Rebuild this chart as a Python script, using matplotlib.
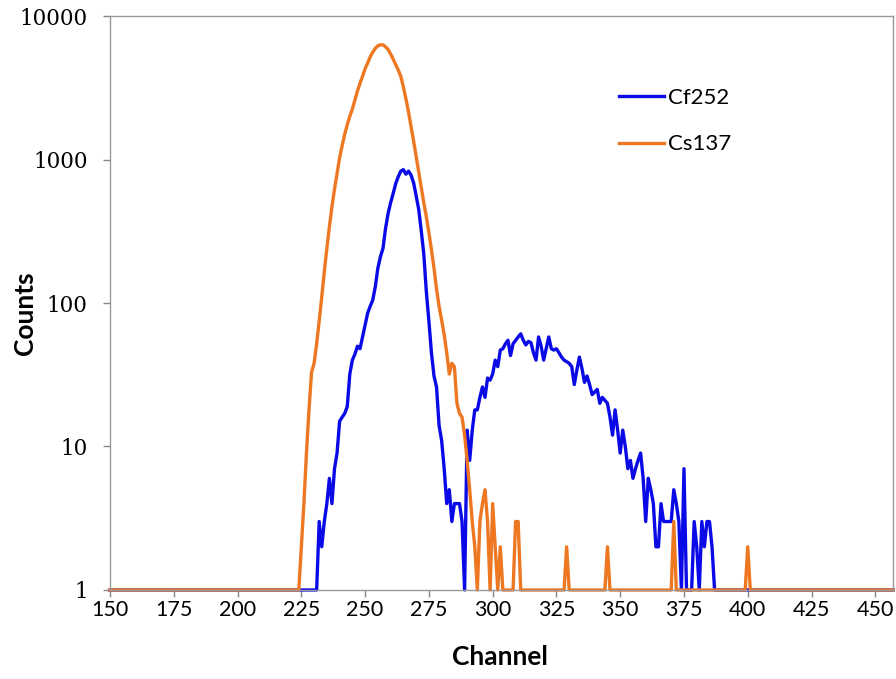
import numpy as np
import matplotlib
matplotlib.use('Agg')
from matplotlib import pyplot as plt

# Canales del espectro (una cuenta = fondo en escala log)
ch_min = 150
ch_max = 457

# Cf252: canales 231..387
cf_start = 231
cf_counts = [1, 3, 2, 3, 4, 6, 4, 7, 9, 15,
             16, 17, 19, 32, 40, 44, 50, 48, 58, 70,
             85, 95, 105, 130, 175, 210, 240, 330, 420, 500,
             580, 680, 760, 830, 850, 790, 830, 780, 690, 560,
             450, 320, 220, 120, 75, 45, 31, 26, 14, 11,
             7, 4, 5, 3, 4, 4, 4, 3, 1, 13,
             8, 13, 18, 18, 22, 26, 22, 30, 29, 32,
             40, 36, 47, 48, 52, 55, 43, 52, 55, 58,
             61, 55, 51, 54, 53, 45, 40, 58, 50, 40,
             48, 58, 48, 47, 48, 45, 42, 40, 39, 38,
             36, 27, 34, 42, 35, 28, 31, 27, 23, 24,
             25, 20, 22, 21, 20, 16, 12, 18, 13, 9,
             13, 10, 7, 8, 6, 7, 8, 9, 6, 3,
             6, 5, 4, 2, 2, 4, 3, 3, 3, 3,
             5, 4, 3, 1, 7, 1, 1, 1, 3, 2,
             1, 3, 2, 3, 3, 2, 1]

# Cs137: canales 224..311 y picos sueltos
cs_start = 224
cs_counts = [1, 2, 4, 9, 18, 33, 38, 52, 75, 110,
             165, 240, 340, 470, 620, 800, 1030, 1250, 1500, 1750,
             2000, 2250, 2600, 3000, 3400, 3800, 4300, 4700, 5200, 5600,
             5950, 6200, 6300, 6300, 6100, 5850, 5450, 5000, 4600, 4200,
             3800, 3200, 2650, 2150, 1700, 1350, 1050, 820, 640, 500,
             400, 310, 235, 175, 125, 95, 76, 60, 45, 32,
             38, 36, 20, 17, 16, 12, 8, 5, 3, 2,
             1, 3, 4, 5, 3, 1, 4, 2, 1, 2,
             1, 1, 1, 1, 1, 3, 3, 1]
cs_spike_ch = [329, 345, 371, 400]
cs_spike_val = [2, 2, 3, 2]

canal = np.arange(ch_min, ch_max + 1)
cf = np.ones(len(canal))
cf[cf_start - ch_min:cf_start - ch_min + len(cf_counts)] = cf_counts
cs = np.ones(len(canal))
cs[cs_start - ch_min:cs_start - ch_min + len(cs_counts)] = cs_counts
for c, v in zip(cs_spike_ch, cs_spike_val):
    cs[c - ch_min] = v

fig = plt.figure(figsize=(8.96, 6.79), dpi=100)
ax = fig.add_axes([0.1228, 0.1311, 0.874, 0.8453])
ax.plot(canal, cf, color='#0A0AE6', lw=2.4, label='Cf252', clip_on=False)
ax.plot(canal, cs, color='#EE7722', lw=2.4, label='Cs137', clip_on=False)
ax.set_yscale('log')
ax.set_xlim(ch_min, ch_max)
ax.set_ylim(1, 10000)
ax.set_xticks(np.arange(150, 451, 25))
ax.set_yticks([1, 10, 100, 1000, 10000])
ax.set_yticklabels(['1', '10', '100', '1000', '10000'], family='DejaVu Serif', fontsize=15.5)
ax.set_xticklabels([str(t) for t in range(150, 451, 25)], family='Lato', fontsize=15.5)
ax.minorticks_off()
ax.tick_params(direction='out', length=5, color='#888888', width=1)
ax.tick_params(axis='x', pad=2)
ax.tick_params(axis='y', pad=11)
for s in ax.spines.values():
    s.set_color('#999999')
    s.set_linewidth(1)
ax.set_xlabel('Channel', family='Lato', fontsize=19, fontweight='bold')
ax.set_ylabel('Counts', family='Lato', fontsize=19, fontweight='bold')
ax.xaxis.set_label_coords(0.498, -0.095)
ax.yaxis.set_label_coords(-0.093, 0.483)
ax.legend(loc='upper left', bbox_to_anchor=(0.625, 0.91), frameon=False,
          prop={'family': 'Lato', 'size': 16}, handlelength=2.0, labelspacing=1.2,
          handletextpad=0.2)
fig.savefig('out.png', dpi=100)
